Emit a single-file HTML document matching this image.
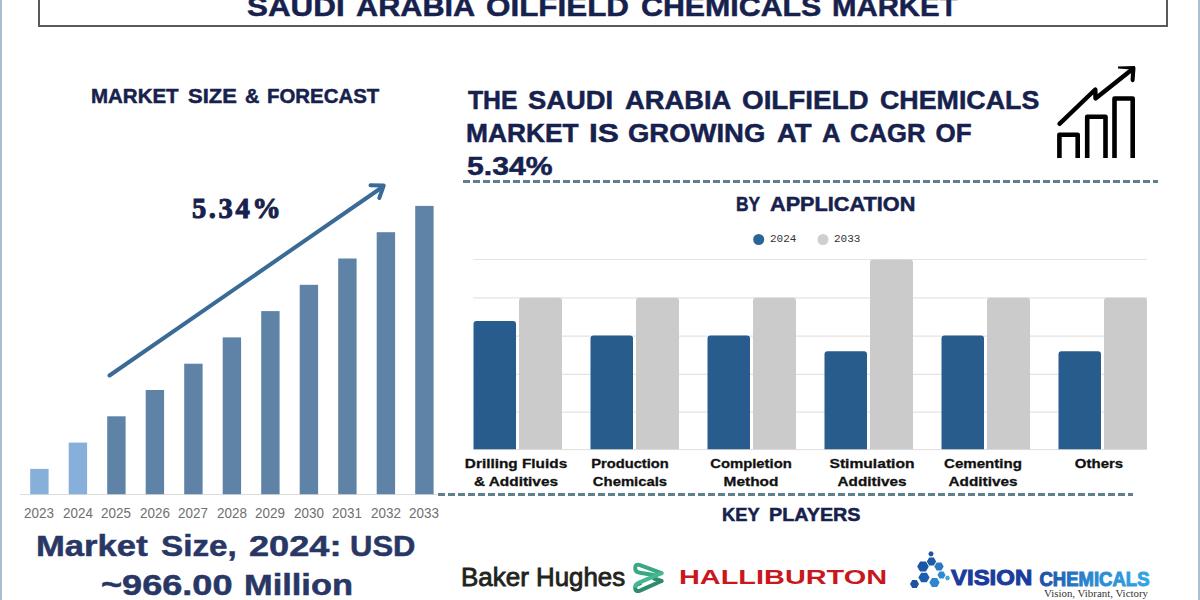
<!DOCTYPE html>
<html><head><meta charset="utf-8">
<style>
html,body{margin:0;padding:0;}
body{width:1200px;height:600px;overflow:hidden;background:#fff;position:relative;font-family:"Liberation Sans",sans-serif;}
.a{position:absolute;white-space:nowrap;line-height:1;}
.b{font-weight:bold;}
.navy{color:#17214d;-webkit-text-stroke:0.5px #17214d;}
.sx{transform-origin:0 0;display:inline-block;}
</style></head>
<body>
<!-- side lines -->
<div class="a" style="left:0;top:0;width:2px;height:600px;background:#aabdcc;"></div>
<div class="a" style="left:1198px;top:0;width:2px;height:600px;background:#adc0cf;"></div>
<!-- title box -->
<div class="a" style="left:38px;top:-20px;width:1126px;height:45px;border:2px solid #5a5a5a;border-top:none;"></div>
<div id="t_tw0" class="a b navy" style="top:-8px;font-size:28.5px;left:246.5px;transform:scaleX(1.1011);transform-origin:0 0;">SAUDI</div>
<div id="t_tw1" class="a b navy" style="top:-8px;font-size:28.5px;left:355.7px;transform:scaleX(1.0755);transform-origin:0 0;">ARABIA</div>
<div id="t_tw2" class="a b navy" style="top:-8px;font-size:28.5px;left:486px;transform:scaleX(1.1016);transform-origin:0 0;">OILFIELD</div>
<div id="t_tw3" class="a b navy" style="top:-8px;font-size:28.5px;left:641px;transform:scaleX(1.0643);transform-origin:0 0;">CHEMICALS</div>
<div id="t_tw4" class="a b navy" style="top:-8px;font-size:28.5px;left:832px;transform:scaleX(1.0302);transform-origin:0 0;">MARKET</div>


<!-- left section -->
<div id="t_mw0" class="a b navy" style="top:86px;font-size:20.6px;left:91.01px;transform:scaleX(0.9943);transform-origin:0 0;">MARKET</div>
<div id="t_mw1" class="a b navy" style="top:86px;font-size:20.6px;left:188.00px;transform:scaleX(1.0652);transform-origin:0 0;">SIZE</div>
<div id="t_mw2" class="a b navy" style="top:86px;font-size:20.6px;left:245.00px;transform:scaleX(0.9667);transform-origin:0 0;">&amp;</div>
<div id="t_mw3" class="a b navy" style="top:86px;font-size:20.6px;left:267.00px;transform:scaleX(0.9912);transform-origin:0 0;">FORECAST</div>

<div id="t_pct" class="a b navy" style="left:192px;font-family:'Liberation Serif',serif;transform-origin:0 0;-webkit-text-stroke:1px #17214d;font-size:28.5px;letter-spacing:2.6px;transform:none;top:194.5px;">5.34%</div>

<!-- right heading -->
<div id="t_h1w0" class="a b navy" style="top:87px;font-size:26px;left:467.98px;transform:scaleX(0.9519);transform-origin:0 0;">THE</div>
<div id="t_h1w1" class="a b navy" style="top:87px;font-size:26px;left:528.49px;transform:scaleX(1.0531);transform-origin:0 0;">SAUDI</div>
<div id="t_h1w2" class="a b navy" style="top:87px;font-size:26px;left:625.00px;transform:scaleX(1.0520);transform-origin:0 0;">ARABIA</div>
<div id="t_h1w3" class="a b navy" style="top:87px;font-size:26px;left:741.97px;transform:scaleX(1.0699);transform-origin:0 0;">OILFIELD</div>
<div id="t_h1w4" class="a b navy" style="top:87px;font-size:26px;left:880.00px;transform:scaleX(1.0308);transform-origin:0 0;">CHEMICALS</div>

<div id="t_h2w0" class="a b navy" style="top:120px;font-size:26px;left:465.98px;transform:scaleX(1.0114);transform-origin:0 0;">MARKET</div>
<div id="t_h2w1" class="a b navy" style="top:120px;font-size:26px;left:588.78px;transform:scaleX(1.2174);transform-origin:0 0;">IS</div>
<div id="t_h2w2" class="a b navy" style="top:120px;font-size:26px;left:628.49px;transform:scaleX(1.0562);transform-origin:0 0;">GROWING</div>
<div id="t_h2w3" class="a b navy" style="top:120px;font-size:26px;left:776.52px;transform:scaleX(1.0606);transform-origin:0 0;">AT</div>
<div id="t_h2w4" class="a b navy" style="top:120px;font-size:26px;left:821.50px;transform:scaleX(0.9868);transform-origin:0 0;">A</div>
<div id="t_h2w5" class="a b navy" style="top:120px;font-size:26px;left:850.00px;transform:scaleX(0.9868);transform-origin:0 0;">CAGR</div>
<div id="t_h2w6" class="a b navy" style="top:120px;font-size:26px;left:935.50px;transform:scaleX(1.0000);transform-origin:0 0;">OF</div>

<div id="t_head3" class="a b navy" style="left:467px;top:153px;font-size:26px;transform:scaleX(1.1597);transform-origin:0 0;">5.34%</div>

<div class="a" style="left:463px;top:180px;width:695px;height:3px;background:repeating-linear-gradient(90deg,#5f7f8d 0 7px,transparent 7px 10px);"></div>

<!-- icon -->
<svg class="a" style="left:0;top:0;" width="1200" height="600" viewBox="0 0 1200 600"><g fill="none" stroke="#000" stroke-width="4.6" stroke-linejoin="round"><path d="M1059.4 158 V134.7 H1077.7 V158"/><path d="M1087.2 158 V116.7 H1105.5 V158"/><path d="M1114.5 158 V98.5 H1132.7 V158"/></g><path d="M1059.5 123.8 L1095.3 89.5 L1095.5 98.5 L1132 69.5" fill="none" stroke="#000" stroke-width="4.4" stroke-linecap="round" stroke-linejoin="round"/><path d="M1118 66.4 L1134.8 66 L1135.5 68 L1134.6 80.2 Q1134.2 82.6 1132.2 82.2 Q1130.5 81.8 1130.6 79.6 L1131.2 69.6 L1118 68.6 Z" fill="#000"/></svg>
<div id="t_bw0" class="a b navy" style="top:195px;font-size:19.4px;left:735.62px;transform:scaleX(0.8963);transform-origin:0 0;">BY</div>
<div id="t_bw1" class="a b navy" style="top:195px;font-size:19.4px;left:770.00px;transform:scaleX(1.1178);transform-origin:0 0;">APPLICATION</div>



<!-- left chart -->
<svg class="a" style="left:0;top:0;" width="1200" height="600" viewBox="0 0 1200 600"><line x1="20" y1="494.5" x2="437" y2="494.5" stroke="#dcdcdc" stroke-width="1"/><rect x="30.2" y="468.9" width="18.4" height="25.3" fill="#86afda"/><rect x="68.7" y="442.6" width="18.4" height="51.6" fill="#86afda"/><rect x="107.2" y="416.3" width="18.4" height="77.9" fill="#5f83a7"/><rect x="145.7" y="390.0" width="18.4" height="104.2" fill="#5f83a7"/><rect x="184.2" y="363.7" width="18.4" height="130.5" fill="#5f83a7"/><rect x="222.7" y="337.4" width="18.4" height="156.8" fill="#5f83a7"/><rect x="261.2" y="311.1" width="18.4" height="183.1" fill="#5f83a7"/><rect x="299.7" y="284.8" width="18.4" height="209.4" fill="#5f83a7"/><rect x="338.2" y="258.5" width="18.4" height="235.7" fill="#5f83a7"/><rect x="376.7" y="232.2" width="18.4" height="262.0" fill="#5f83a7"/><rect x="415.2" y="205.9" width="18.4" height="288.3" fill="#5f83a7"/><path d="M109.5 375.5 L382.5 187" stroke="#3a6b97" stroke-width="4" stroke-linecap="round" fill="none"/><path d="M370.5 185.2 L383.7 185.6 L379.3 198" stroke="#3a6b97" stroke-width="4" stroke-linecap="round" stroke-linejoin="round" fill="none"/></svg>
<div id="t_y2023" class="a" style="left:19.4px;width:40px;text-align:center;top:506px;font-size:14px;color:#707070;transform:scaleX(0.96);transform-origin:20px 0;">2023</div>
<div id="t_y2024" class="a" style="left:57.9px;width:40px;text-align:center;top:506px;font-size:14px;color:#707070;transform:scaleX(0.96);transform-origin:20px 0;">2024</div>
<div id="t_y2025" class="a" style="left:96.4px;width:40px;text-align:center;top:506px;font-size:14px;color:#707070;transform:scaleX(0.96);transform-origin:20px 0;">2025</div>
<div id="t_y2026" class="a" style="left:134.9px;width:40px;text-align:center;top:506px;font-size:14px;color:#707070;transform:scaleX(0.96);transform-origin:20px 0;">2026</div>
<div id="t_y2027" class="a" style="left:173.4px;width:40px;text-align:center;top:506px;font-size:14px;color:#707070;transform:scaleX(0.96);transform-origin:20px 0;">2027</div>
<div id="t_y2028" class="a" style="left:211.9px;width:40px;text-align:center;top:506px;font-size:14px;color:#707070;transform:scaleX(0.96);transform-origin:20px 0;">2028</div>
<div id="t_y2029" class="a" style="left:250.4px;width:40px;text-align:center;top:506px;font-size:14px;color:#707070;transform:scaleX(0.96);transform-origin:20px 0;">2029</div>
<div id="t_y2030" class="a" style="left:288.9px;width:40px;text-align:center;top:506px;font-size:14px;color:#707070;transform:scaleX(0.96);transform-origin:20px 0;">2030</div>
<div id="t_y2031" class="a" style="left:327.4px;width:40px;text-align:center;top:506px;font-size:14px;color:#707070;transform:scaleX(0.96);transform-origin:20px 0;">2031</div>
<div id="t_y2032" class="a" style="left:365.9px;width:40px;text-align:center;top:506px;font-size:14px;color:#707070;transform:scaleX(0.96);transform-origin:20px 0;">2032</div>
<div id="t_y2033" class="a" style="left:404.4px;width:40px;text-align:center;top:506px;font-size:14px;color:#707070;transform:scaleX(0.96);transform-origin:20px 0;">2033</div>

<!-- right chart -->
<svg class="a" style="left:0;top:0;" width="1200" height="600" viewBox="0 0 1200 600"><line x1="473.5" y1="259.5" x2="1147" y2="259.5" stroke="#e3e3e3" stroke-width="1.2"/><line x1="473.5" y1="297.8" x2="1147" y2="297.8" stroke="#e3e3e3" stroke-width="1.2"/><line x1="473.5" y1="336.1" x2="1147" y2="336.1" stroke="#e3e3e3" stroke-width="1.2"/><line x1="473.5" y1="374.4" x2="1147" y2="374.4" stroke="#e3e3e3" stroke-width="1.2"/><line x1="473.5" y1="412.2" x2="1147" y2="412.2" stroke="#e3e3e3" stroke-width="1.2"/><line x1="473.5" y1="449.6" x2="1147" y2="449.6" stroke="#dedede" stroke-width="1"/><path d="M473.5 449.3 V324.0 Q473.5 321.0 476.5 321.0 H513.0 Q516.0 321.0 516.0 324.0 V449.3 Z" fill="#275c8d"/><path d="M519.0 449.3 V300.8 Q519.0 297.8 522.0 297.8 H559.0 Q562.0 297.8 562.0 300.8 V449.3 Z" fill="#cbcbcb"/><path d="M590.5 449.3 V338.5 Q590.5 335.5 593.5 335.5 H630.0 Q633.0 335.5 633.0 338.5 V449.3 Z" fill="#275c8d"/><path d="M636.0 449.3 V300.8 Q636.0 297.8 639.0 297.8 H676.0 Q679.0 297.8 679.0 300.8 V449.3 Z" fill="#cbcbcb"/><path d="M707.5 449.3 V338.5 Q707.5 335.5 710.5 335.5 H747.0 Q750.0 335.5 750.0 338.5 V449.3 Z" fill="#275c8d"/><path d="M753.0 449.3 V300.8 Q753.0 297.8 756.0 297.8 H793.0 Q796.0 297.8 796.0 300.8 V449.3 Z" fill="#cbcbcb"/><path d="M824.5 449.3 V354.3 Q824.5 351.3 827.5 351.3 H864.0 Q867.0 351.3 867.0 354.3 V449.3 Z" fill="#275c8d"/><path d="M870.0 449.3 V262.5 Q870.0 259.5 873.0 259.5 H910.0 Q913.0 259.5 913.0 262.5 V449.3 Z" fill="#cbcbcb"/><path d="M941.5 449.3 V338.5 Q941.5 335.5 944.5 335.5 H981.0 Q984.0 335.5 984.0 338.5 V449.3 Z" fill="#275c8d"/><path d="M987.0 449.3 V300.8 Q987.0 297.8 990.0 297.8 H1027.0 Q1030.0 297.8 1030.0 300.8 V449.3 Z" fill="#cbcbcb"/><path d="M1058.5 449.3 V354.3 Q1058.5 351.3 1061.5 351.3 H1098.0 Q1101.0 351.3 1101.0 354.3 V449.3 Z" fill="#275c8d"/><path d="M1104.0 449.3 V300.8 Q1104.0 297.8 1107.0 297.8 H1144.0 Q1147.0 297.8 1147.0 300.8 V449.3 Z" fill="#cbcbcb"/><circle cx="758.7" cy="239.5" r="5.5" fill="#2c6497"/><circle cx="823" cy="239.5" r="5.5" fill="#cfcfcf"/></svg>
<div id="t_leg1" class="a" style="left:770px;top:234px;font-size:11px;color:#333;font-family:'Liberation Mono',monospace;">2024</div>
<div id="t_leg2" class="a" style="left:834px;top:234px;font-size:11px;color:#333;font-family:'Liberation Mono',monospace;">2033</div>
<div id="t_cat0a" class="a b" style="left:456.0px;width:120px;text-align:center;top:457px;font-size:13.5px;color:#111;transform:scaleX(1.137);transform-origin:60px 0;-webkit-text-stroke:0.3px #111;">Drilling Fluids</div>
<div id="t_cat0b" class="a b" style="left:456.0px;width:120px;text-align:center;top:474.5px;font-size:13.5px;color:#111;transform:scaleX(1.141);transform-origin:60px 0;-webkit-text-stroke:0.3px #111;">&amp; Additives</div>
<div id="t_cat1a" class="a b" style="left:569.5px;width:120px;text-align:center;top:457px;font-size:13.5px;color:#111;transform:scaleX(1.091);transform-origin:60px 0;-webkit-text-stroke:0.3px #111;">Production</div>
<div id="t_cat1b" class="a b" style="left:569.5px;width:120px;text-align:center;top:474.5px;font-size:13.5px;color:#111;transform:scaleX(1.099);transform-origin:60px 0;-webkit-text-stroke:0.3px #111;">Chemicals</div>
<div id="t_cat2a" class="a b" style="left:691.0px;width:120px;text-align:center;top:457px;font-size:13.5px;color:#111;transform:scaleX(1.10);transform-origin:60px 0;-webkit-text-stroke:0.3px #111;">Completion</div>
<div id="t_cat2b" class="a b" style="left:691.0px;width:120px;text-align:center;top:474.5px;font-size:13.5px;color:#111;transform:scaleX(1.143);transform-origin:60px 0;-webkit-text-stroke:0.3px #111;">Method</div>
<div id="t_cat3a" class="a b" style="left:812.0px;width:120px;text-align:center;top:457px;font-size:13.5px;color:#111;transform:scaleX(1.156);transform-origin:60px 0;-webkit-text-stroke:0.3px #111;">Stimulation</div>
<div id="t_cat3b" class="a b" style="left:812.0px;width:120px;text-align:center;top:474.5px;font-size:13.5px;color:#111;transform:scaleX(1.133);transform-origin:60px 0;-webkit-text-stroke:0.3px #111;">Additives</div>
<div id="t_cat4a" class="a b" style="left:922.5px;width:120px;text-align:center;top:457px;font-size:13.5px;color:#111;transform:scaleX(1.117);transform-origin:60px 0;-webkit-text-stroke:0.3px #111;">Cementing</div>
<div id="t_cat4b" class="a b" style="left:922.5px;width:120px;text-align:center;top:474.5px;font-size:13.5px;color:#111;transform:scaleX(1.135);transform-origin:60px 0;-webkit-text-stroke:0.3px #111;">Additives</div>
<div id="t_cat5a" class="a b" style="left:1039.0px;width:120px;text-align:center;top:457px;font-size:13.5px;color:#111;transform:scaleX(1.109);transform-origin:60px 0;-webkit-text-stroke:0.3px #111;">Others</div>

<div class="a" style="left:438px;top:493px;width:695px;height:2.5px;background:repeating-linear-gradient(90deg,transparent 0 0.3px,#5f7f8d 0.3px 7.3px,transparent 7.3px 10px);"></div>
<div id="t_kw0" class="a b navy" style="top:505px;font-size:19px;left:722.02px;transform:scaleX(0.9615);transform-origin:0 0;">KEY</div>
<div id="t_kw1" class="a b navy" style="top:505px;font-size:19px;left:769.49px;transform:scaleX(1.0398);transform-origin:0 0;">PLAYERS</div>


<div id="t_m1w0" class="a b" style="top:531px;font-size:30px;color:#283766;-webkit-text-stroke:0.5px #283766;left:36.34px;transform:scaleX(1.1547);transform-origin:0 0;">Market</div>
<div id="t_m1w1" class="a b" style="top:531px;font-size:30px;color:#283766;-webkit-text-stroke:0.5px #283766;left:160.58px;transform:scaleX(1.1075);transform-origin:0 0;">Size,</div>
<div id="t_m1w2" class="a b" style="top:531px;font-size:30px;color:#283766;-webkit-text-stroke:0.5px #283766;left:249.00px;transform:scaleX(1.2054);transform-origin:0 0;">2024:</div>
<div id="t_m1w3" class="a b" style="top:531px;font-size:30px;color:#283766;-webkit-text-stroke:0.5px #283766;left:350.46px;transform:scaleX(1.0328);transform-origin:0 0;">USD</div>

<div id="t_m2w0" class="a b" style="top:570px;font-size:30px;color:#283766;-webkit-text-stroke:0.5px #283766;left:101.34px;transform:scaleX(1.2037);transform-origin:0 0;">~966.00</div>
<div id="t_m2w1" class="a b" style="top:570px;font-size:30px;color:#283766;-webkit-text-stroke:0.5px #283766;left:243.85px;transform:scaleX(1.1473);transform-origin:0 0;">Million</div>


<!-- logos -->
<svg class="a" style="left:0;top:0;" width="1200" height="600" viewBox="0 0 1200 600"><path d="M661.5 573.2 L640 565.2 Q635.2 563.6 635.2 568 Q635.2 572.3 640 572.8 L655 575.3" fill="none" stroke="#3aa882" stroke-width="4" stroke-linejoin="round" stroke-linecap="round"/><path d="M661.5 581 L640 590.6 Q635.2 592.2 635.2 588 Q635.2 584.2 640 583.6" fill="none" stroke="#2e8c6b" stroke-width="4" stroke-linejoin="round" stroke-linecap="round"/><path d="M661.5 581 L654 578.5" fill="none" stroke="#2e8c6b" stroke-width="4" stroke-linecap="round"/><path d="M661.5 573.2 L639 582.6 Q636 583.8 635.5 586" fill="none" stroke="#45b791" stroke-width="4" stroke-linecap="round"/><polygon points="933.69,553.80 932.34,556.13 929.66,556.13 928.31,553.80 929.66,551.47 932.34,551.47" fill="#1f4f9e"/><polygon points="936.20,561.50 933.85,565.58 929.15,565.58 926.80,561.50 929.15,557.42 933.85,557.42" fill="#1d5aa8"/><polygon points="928.82,566.50 925.91,571.54 920.09,571.54 917.18,566.50 920.09,561.46 925.91,561.46" fill="#1b55a6"/><polygon points="943.70,566.50 941.35,570.58 936.65,570.58 934.30,566.50 936.65,562.42 941.35,562.42" fill="#2a78c4"/><polygon points="929.60,577.50 926.80,582.35 921.20,582.35 918.40,577.50 921.20,572.65 926.80,572.65" fill="#1c5dae"/><polygon points="945.53,575.00 943.52,578.49 939.48,578.49 937.47,575.00 939.48,571.51 943.52,571.51" fill="#2e8ad0"/><polygon points="939.65,582.50 937.08,586.96 931.92,586.96 929.35,582.50 931.92,578.04 937.08,578.04" fill="#2f86cc"/><polygon points="918.98,584.00 916.74,587.88 912.26,587.88 910.02,584.00 912.26,580.12 916.74,580.12" fill="#1d52a0"/><polygon points="949.96,578.00 948.73,580.14 946.27,580.14 945.04,578.00 946.27,575.86 948.73,575.86" fill="#41a9d6"/></svg>
<div id="t_bhw0" class="a" style="top:563.5px;font-size:26px;color:#1f2421;-webkit-text-stroke:0.85px #1f2421;left:461.00px;transform:scaleX(1.0000);transform-origin:0 0;">Baker</div>
<div id="t_bhw1" class="a" style="top:563.5px;font-size:26px;color:#1f2421;-webkit-text-stroke:0.85px #1f2421;left:536.01px;transform:scaleX(0.9943);transform-origin:0 0;">Hughes</div>

<div id="t_hal" class="a b" style="top:567px;font-size:20.3px;transform:scaleX(1.424);transform-origin:0 0;left:678.5px;color:#c8181e;">HALLIBURTON</div>
<div id="t_vis" class="a b" style="left:951px;color:#1c3c9c;transform-origin:0 0;-webkit-text-stroke:1px #1c3c9c;font-size:21.5px;top:567.6px;transform:scaleX(1.114);">VISION</div>
<svg id="t_chem" class="a" style="left:0;top:0;" width="1200" height="600" viewBox="0 0 1200 600"><defs><linearGradient id="gch" x1="1038" y1="0" x2="1150" y2="0" gradientUnits="userSpaceOnUse"><stop offset="0" stop-color="#1d4fa3"/><stop offset="0.45" stop-color="#2a86cf"/><stop offset="1" stop-color="#33a6e3"/></linearGradient></defs><text x="1039.5" y="585.5" font-family="Liberation Sans" font-weight="bold" font-size="19.5" fill="url(#gch)" stroke="url(#gch)" stroke-width="1" textLength="110" lengthAdjust="spacingAndGlyphs">CHEMICALS</text></svg>
<div id="t_vvv" class="a" style="left:1044px;top:589px;font-size:10.5px;color:#333;font-family:'Liberation Serif',serif;transform:scaleX(1.036);transform-origin:0 0;">Vision, Vibrant, Victory</div>
</body></html>
